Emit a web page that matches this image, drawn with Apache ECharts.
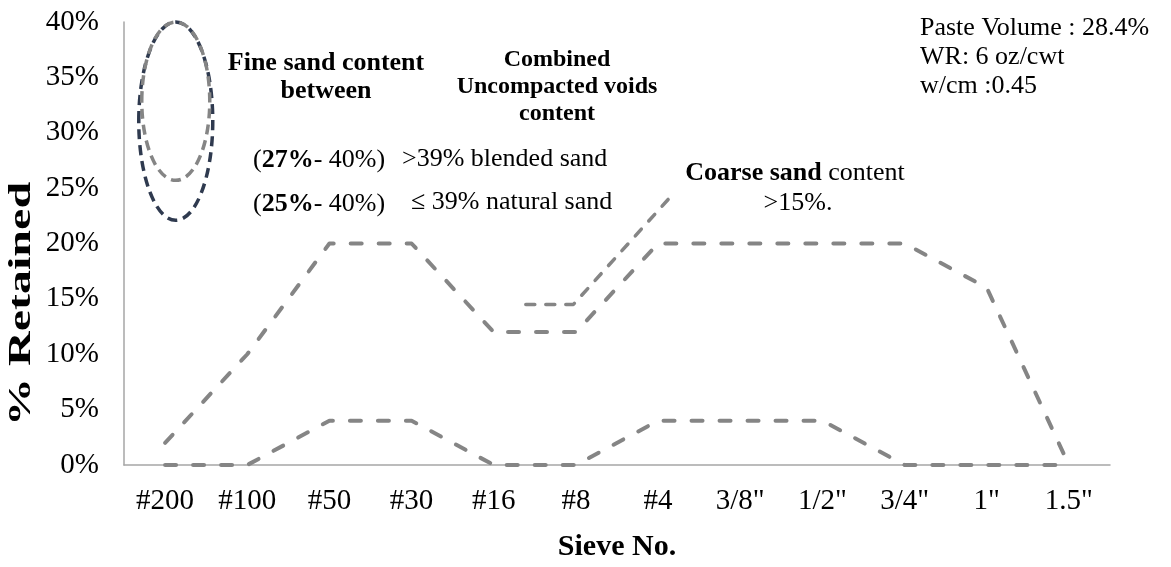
<!DOCTYPE html>
<html>
<head>
<meta charset="utf-8">
<script src="https://cdn.jsdelivr.net/npm/echarts@6/dist/echarts.min.js"></script>
<style>
  html, body { margin: 0; padding: 0; background: #fff; }
  #chart { width: 1171px; height: 567px; }
</style>
</head>
<body>
<div id="chart"></div>
<script>
// Sieve sizes along the x axis
const sieves = ['#200', '#100', '#50', '#30', '#16', '#8', '#4', '3/8"', '1/2"', '3/4"', '1"', '1.5"'];
// Upper and lower limits of the gradation band (% retained)
const upperLimit = [2, 10, 20, 20, 12, 12, 20, 20, 20, 20, 16, 0];
const lowerLimit = [0, 0, 4, 4, 0, 0, 4, 4, 4, 0, 0, 0];
// Coarse-sand guide (positions on the sieve scale, % retained)
const coarseGuideX = [4.39, 4.97, 6.21];
const coarseGuideY = [14.5, 14.5, 24.7];
// Y axis
const yMin = 0, yMax = 40, yStep = 5;
// Fine sand ranges marked by the two ellipses (% retained)
const fineRangeBlended = [25.7, 40];
const fineRangeNatural = [22.1, 40];

const GREY = '#858585';
const NAVY = '#2f3a4f';
const SERIF = '"Liberation Serif", "Times New Roman", serif';

const chart = echarts.init(document.getElementById('chart'), null, { renderer: 'canvas' });

const dashed = { color: GREY, width: 4, type: [11, 17], cap: 'round', join: 'round' };

chart.setOption({
  animation: false,
  grid: { left: 124, top: 22, width: 986, height: 462, containLabel: false },
  xAxis: [
    {
      type: 'category',
      data: sieves,
      boundaryGap: true,
      axisLine: { lineStyle: { color: '#a6a6a6', width: 1.5 } },
      axisTick: { show: false },
      axisLabel: { color: '#000', fontFamily: SERIF, fontSize: 29, margin: 22, interval: 0 },
      name: 'Sieve No.',
      nameLocation: 'middle',
      nameGap: 67,
      nameTextStyle: { color: '#000', fontFamily: SERIF, fontSize: 30, fontWeight: 'bold' }
    },
    { type: 'value', min: -0.5, max: 11.5, show: false }
  ],
  yAxis: {
    type: 'value',
    min: yMin, max: yMax, interval: yStep,
    axisLine: { show: true, onZero: false, lineStyle: { color: '#a6a6a6', width: 1.5 } },
    axisTick: { show: false },
    splitLine: { show: false },
    axisLabel: { color: '#000', fontFamily: SERIF, fontSize: 29, margin: 25, formatter: v => v + '%' }
  },
  series: [
    { type: 'line', data: upperLimit, symbol: 'none', lineStyle: dashed, z: 3 },
    { type: 'line', data: lowerLimit, symbol: 'none', lineStyle: dashed, z: 3 },
    {
      type: 'line', xAxisIndex: 1, symbol: 'none', z: 3,
      data: coarseGuideX.map((x, i) => [x, coarseGuideY[i]]),
      lineStyle: { color: GREY, width: 3.5, type: [9, 11], cap: 'round' }
    }
  ]
});

// Dashed ellipses spanning the fine sand ranges
function ellipseFor(range, rx, color) {
  const top = chart.convertToPixel({ yAxisIndex: 0 }, range[1]);
  const bottom = chart.convertToPixel({ yAxisIndex: 0 }, range[0]);
  const cx = chart.convertToPixel({ xAxisIndex: 1 }, 0.13);
  return {
    type: 'ellipse',
    shape: { cx: cx, cy: (top + bottom) / 2, rx: rx, ry: (bottom - top) / 2 },
    style: { fill: 'none', stroke: color, lineWidth: 3.5, lineDash: [10, 6] },
    z: 10
  };
}

function txt(x, y, text, opt) {
  opt = opt || {};
  return {
    type: 'text', x: x, y: y, z: 20,
    style: Object.assign({
      text: text,
      font: (opt.bold ? 'bold ' : '') + (opt.size || 26) + 'px ' + SERIF,
      fill: '#000',
      align: opt.align || 'left', textAlign: opt.align || 'left',
      verticalAlign: 'middle', textVerticalAlign: 'middle'
    }, opt.style || {})
  };
}

const rich = {
  n: { fontFamily: SERIF, fontSize: 26, color: '#000' },
  b: { fontFamily: SERIF, fontSize: 26, fontWeight: 'bold', color: '#000' },
  hb: { fontFamily: SERIF, fontSize: 26, fontWeight: 'bold', color: NAVY }
};

chart.setOption({
  graphic: [
    ellipseFor(fineRangeNatural, 37, NAVY),
    ellipseFor(fineRangeBlended, 34, GREY),
    txt(326, 63, 'Fine sand content', { bold: true, align: 'center' }),
    txt(326, 91, 'between', { bold: true, align: 'center' }),
    txt(557, 60, 'Combined', { bold: true, size: 24, align: 'center' }),
    txt(557, 87, 'Uncompacted voids', { bold: true, size: 24, align: 'center' }),
    txt(557, 114, 'content', { bold: true, size: 24, align: 'center' }),
    txt(253, 160, '', { style: { text: '({hb|27%}- 40%)', rich: rich } }),
    txt(402, 159, '>39% blended sand'),
    txt(253, 204, '', { style: { text: '({hb|25%}- 40%)', rich: rich } }),
    txt(411, 202, '\u2264 39% natural sand'),
    txt(795, 173, '', { align: 'center', style: { text: '{b|Coarse sand} content', rich: rich } }),
    txt(798, 203, '>15%.', { align: 'center' }),
    txt(920, 28, 'Paste Volume : 28.4%'),
    txt(920, 57, 'WR: 6 oz/cwt'),
    txt(920, 86, 'w/cm :0.45'),
    {
      type: 'text', x: 22, y: 304, rotation: Math.PI / 2, scaleX: 1.55, z: 20,
      style: {
        text: '% Retained', font: 'bold 31px ' + SERIF, fill: '#000',
        align: 'center', textAlign: 'center', verticalAlign: 'middle', textVerticalAlign: 'middle'
      }
    }
  ]
});
</script>
</body>
</html>
